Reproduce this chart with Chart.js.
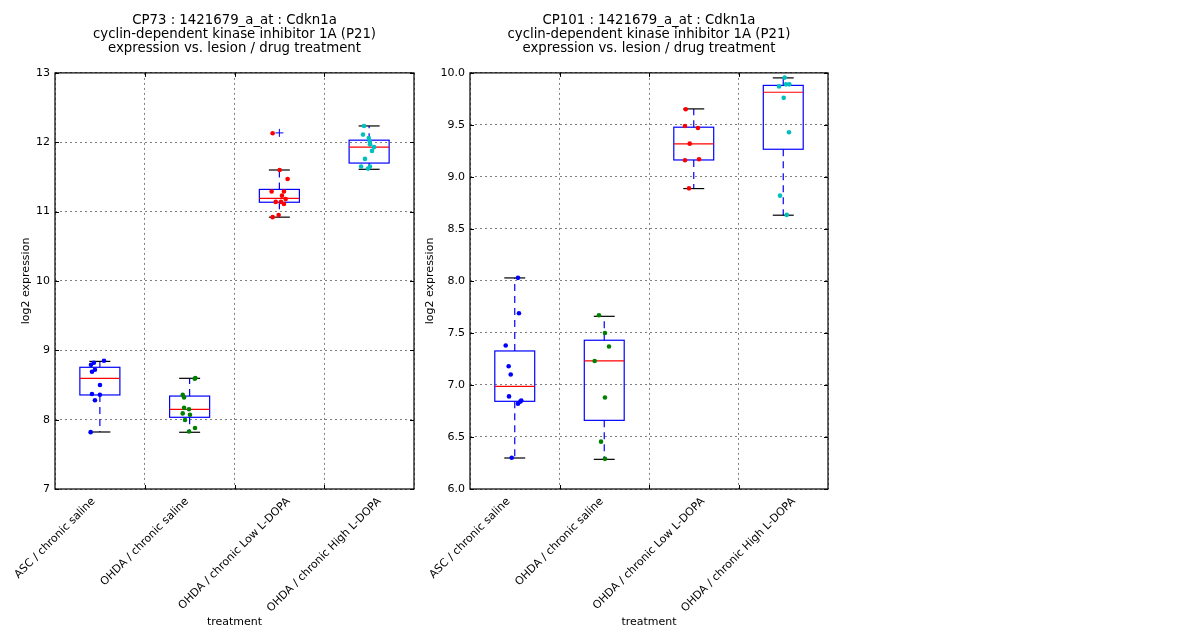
<!DOCTYPE html>
<html><head><meta charset="utf-8">
<script src="https://cdn.jsdelivr.net/npm/chart.js@4.4.1/dist/chart.umd.min.js"></script>
<style>
html,body{margin:0;padding:0;background:#fff;width:1200px;height:640px;overflow:hidden}
.wrap{position:absolute;top:0;height:640px;width:420px}
#w1{left:0}
#w2{left:415px}
</style></head><body>
<div class="wrap" id="w1"><canvas id="c1" width="420" height="640"></canvas></div>
<div class="wrap" id="w2"><canvas id="c2" width="420" height="640"></canvas></div>
<script>
// ---------- data ----------
const categories = ['ASC / chronic saline', 'OHDA / chronic saline', 'OHDA / chronic Low L-DOPA', 'OHDA / chronic High L-DOPA'];

const cp73Title = ['CP73 : 1421679_a_at : Cdkn1a', 'cyclin-dependent kinase inhibitor 1A (P21)', 'expression vs. lesion / drug treatment'];
const cp101Title = ['CP101 : 1421679_a_at : Cdkn1a', 'cyclin-dependent kinase inhibitor 1A (P21)', 'expression vs. lesion / drug treatment'];

// individual sample values (log2 expression), per treatment group
const cp73Values = [
  [8.85, 8.82, 8.79, 8.72, 8.69, 8.50, 8.37, 8.36, 8.28, 7.82],
  [8.60, 8.59, 8.36, 8.32, 8.17, 8.15, 8.09, 8.07, 7.995, 7.88, 7.83],
  [12.13, 11.60, 11.47, 11.29, 11.29, 11.23, 11.18, 11.14, 11.14, 11.11, 10.95, 10.92],
  [12.235, 12.11, 12.06, 12.01, 11.97, 11.93, 11.875, 11.76, 11.65, 11.65, 11.62]
];
const cp101Values = [
  [8.03, 7.69, 7.38, 7.18, 7.10, 6.89, 6.85, 6.84, 6.82, 6.30],
  [7.67, 7.50, 7.37, 7.23, 6.88, 6.455, 6.29],
  [9.65, 9.49, 9.47, 9.32, 9.16, 9.17, 8.89],
  [9.955, 9.87, 9.89, 9.89, 9.76, 9.43, 8.82, 8.635]
];

// box-plot statistics
const cp73WhiskerLow  = [7.822, 7.818, 10.92, 11.61];
const cp73Q1          = [8.356, 8.034, 11.135, 11.70];
const cp73Median      = [8.596, 8.149, 11.19, 11.93];
const cp73Q3          = [8.755, 8.34, 11.32, 12.03];
const cp73WhiskerHigh = [8.84, 8.596, 11.60, 12.235];
const cp73Fliers      = [[], [], [12.135], []];

const cp101WhiskerLow  = [6.298, 6.285, 8.888, 8.632];
const cp101Q1          = [6.843, 6.66, 9.163, 9.266];
const cp101Median      = [6.987, 7.231, 9.317, 9.814];
const cp101Q3          = [7.327, 7.43, 9.478, 9.88];
const cp101WhiskerHigh = [8.029, 7.66, 9.654, 9.952];
const cp101Fliers      = [[], [], [], []];

// ---------- layout / style (not data) ----------
const cp73Jitter = [
  [0.046, -0.066, -0.099, -0.055, -0.088, 0.001, -0.088, 0.0, -0.055, -0.103],
  [0.064, 0.057, -0.077, -0.062, -0.062, -0.007, -0.077, 0.004, -0.051, 0.060, -0.007],
  [-0.075, 0.003, 0.092, -0.086, 0.051, 0.029, 0.070, -0.041, 0.018, 0.051, -0.008, -0.075],
  [-0.057, -0.068, -0.004, 0.007, 0.010, 0.055, 0.032, -0.046, -0.090, 0.010, -0.012]
];
const cp101Jitter = [
  [0.036, 0.047, -0.101, -0.068, -0.045, -0.064, 0.073, 0.062, 0.036, -0.034],
  [-0.059, 0.008, 0.053, -0.107, 0.008, -0.036, 0.008],
  [-0.090, -0.098, 0.047, -0.045, -0.098, 0.059, -0.053],
  [0.016, -0.047, 0.031, 0.068, 0.005, 0.064, -0.036, 0.039]
];
const groupColors = ['#0000ff', '#008000', '#ff0000', '#00bfbf'];
const BOX_HALF = 0.223, CAP_HALF = 0.117;
const FONT_FAMILY = "'DejaVu Sans', sans-serif";

Chart.defaults.font.family = FONT_FAMILY;
Chart.defaults.font.size = 11;
Chart.defaults.color = '#000';

function boxPlugin(st) {
  function line(ctx, x1, y1, x2, y2) { ctx.beginPath(); ctx.moveTo(x1, y1); ctx.lineTo(x2, y2); ctx.stroke(); }
  return {
    id: 'boxes',
    beforeDatasetsDraw(chart) {
      const ctx = chart.ctx, xs = chart.scales.xl, ys = chart.scales.y;
      ctx.save();
      ctx.lineWidth = 1.2;
      st.lo.forEach((lo, i) => {
        const xl = xs.getPixelForValue(i - BOX_HALF), xr = xs.getPixelForValue(i + BOX_HALF);
        const xc = xs.getPixelForValue(i);
        const cl = xs.getPixelForValue(i - CAP_HALF), cr = xs.getPixelForValue(i + CAP_HALF);
        const yLo = ys.getPixelForValue(lo), yQ1 = ys.getPixelForValue(st.q1[i]);
        const yMed = ys.getPixelForValue(st.med[i]), yQ3 = ys.getPixelForValue(st.q3[i]);
        const yHi = ys.getPixelForValue(st.hi[i]);
        ctx.strokeStyle = '#0000ff';
        ctx.setLineDash([7, 5]);
        line(ctx, xc, yQ1, xc, yLo);
        line(ctx, xc, yQ3, xc, yHi);
        ctx.setLineDash([]);
        ctx.strokeStyle = '#000';
        line(ctx, cl, yLo, cr, yLo);
        line(ctx, cl, yHi, cr, yHi);
        ctx.strokeStyle = '#0000ff';
        ctx.strokeRect(xl, yQ3, xr - xl, yQ1 - yQ3);
        ctx.strokeStyle = '#ff0000';
        line(ctx, xl, yMed, xr, yMed);
      });
      ctx.restore();
    },
    afterDraw(chart) {
      const ctx = chart.ctx, a = chart.chartArea, ys = chart.scales.y, xs = chart.scales.xl;
      ctx.save();
      ctx.strokeStyle = '#000';
      ctx.lineWidth = 1;
      ys.ticks.forEach(t => {
        const y = Math.round(ys.getPixelForValue(t.value)) + 0.5;
        line(ctx, a.left, y, a.left + 4, y);
        line(ctx, a.right - 4, y, a.right, y);
      });
      for (let k = 1; k < categories.length; k++) {
        const x = Math.round(xs.getPixelForValue(k - 0.5)) + 0.5;
        line(ctx, x, a.top, x, a.top + 4);
        line(ctx, x, a.bottom - 4, x, a.bottom);
      }
      ctx.lineWidth = 1.2;
      ctx.strokeRect(a.left, a.top, a.right - a.left, a.bottom - a.top);
      ctx.restore();
    }
  };
}

// tick labels are centred (as rotated boxes) on the category boundaries, like the reference
function placeLabelTicks(scale) {
  const ctx = scale.ctx;
  ctx.save();
  ctx.font = '11px ' + FONT_FAMILY;
  const unit = scale.width / categories.length;
  scale.ticks = categories.map((c, i) => ({
    value: i - 0.5 + (ctx.measureText(c).width * Math.SQRT1_2 / 2) / unit
  }));
  ctx.restore();
}

function makeChart(id, title, values, jitter, fliers, st, yMin, yMax, yStep, decimals, padLeft, yWidth, padRight) {
  const datasets = values.map((vals, i) => ({
    label: categories[i],
    xAxisID: 'xl',
    data: vals.map((v, j) => ({ x: i + jitter[i][j], y: v })),
    backgroundColor: groupColors[i],
    borderWidth: 0,
    pointRadius: 2.3,
    pointHoverRadius: 2.3
  }));
  datasets.push({
    label: 'fliers',
    xAxisID: 'xl',
    data: fliers.flatMap((f, i) => f.map(v => ({ x: i, y: v }))),
    pointStyle: 'cross',
    pointRadius: 4,
    borderColor: '#0000ff',
    borderWidth: 1,
    backgroundColor: '#0000ff'
  });
  return new Chart(document.getElementById(id), {
    type: 'scatter',
    data: { datasets },
    plugins: [boxPlugin(st)],
    options: {
      responsive: false,
      animation: false,
      events: [],
      layout: { padding: { left: padLeft, right: padRight, top: 0, bottom: 11 } },
      plugins: {
        legend: { display: false },
        tooltip: { enabled: false },
        title: {
          display: true,
          text: title,
          fullSize: false,
          color: '#000',
          font: { size: 13.3, lineHeight: 14.3 / 13.3, weight: 'normal' },
          padding: { top: 13, bottom: 17 }
        }
      },
      scales: {
        x: {
          type: 'category',
          labels: categories,
          offset: true,
          position: 'bottom',
          grid: { offset: true, color: '#7f7f7f', lineWidth: 1, drawTicks: false },
          border: { display: false, dash: [2, 3] },
          ticks: { display: false },
          afterFit: s => { s.height = 0; }
        },
        xl: {
          type: 'linear',
          min: -0.5, max: 3.5,
          position: 'bottom',
          grid: { display: false, drawTicks: false },
          border: { display: false },
          afterBuildTicks: placeLabelTicks,
          ticks: { minRotation: 45, maxRotation: 45, autoSkip: false, padding: 6,
                   color: '#000', font: { size: 11 },
                   callback: (v, idx) => categories[idx] },
          title: { display: true, text: 'treatment', color: '#000', font: { size: 11 }, padding: 0 },
          afterFit: s => { s.height = 140; }
        },
        y: {
          min: yMin, max: yMax,
          grid: { color: '#7f7f7f', lineWidth: 1, drawTicks: false },
          border: { display: false, dash: [2, 3] },
          ticks: { stepSize: yStep, padding: 5, color: '#000', font: { size: 11 },
                   callback: v => v.toFixed(decimals) },
          title: { display: true, text: 'log2 expression', color: '#000', font: { size: 11 }, padding: 0 },
          afterFit: s => { s.width = yWidth; }
        }
      }
    }
  });
}

makeChart('c1', cp73Title, cp73Values, cp73Jitter, cp73Fliers,
  { lo: cp73WhiskerLow, q1: cp73Q1, med: cp73Median, q3: cp73Q3, hi: cp73WhiskerHigh },
  7, 13, 1, 0, 20, 35, 6);
makeChart('c2', cp101Title, cp101Values, cp101Jitter, cp101Fliers,
  { lo: cp101WhiskerLow, q1: cp101Q1, med: cp101Median, q3: cp101Q3, hi: cp101WhiskerHigh },
  6, 10, 0.5, 1, 9, 46, 7);
</script></body></html>
